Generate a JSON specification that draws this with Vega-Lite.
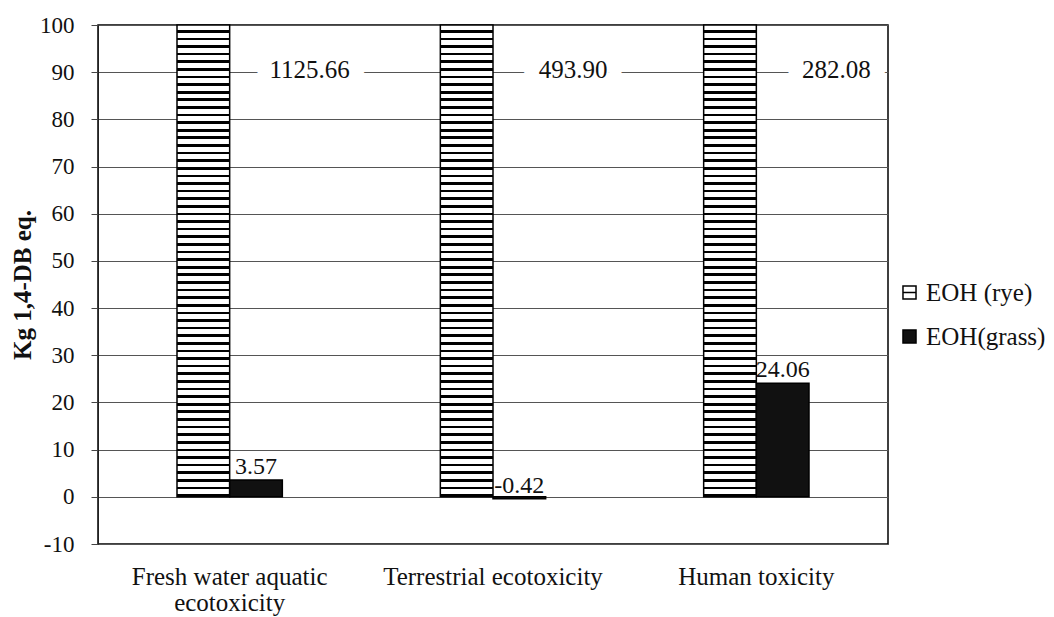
{
  "$schema": "https://vega.github.io/schema/vega-lite/v6.json",
  "width": 790,
  "height": 519,
  "autosize": "none",
  "padding": {"left": 98, "top": 25, "right": 166, "bottom": 73},
  "background": "white",
  "config": {
    "font": "Liberation Serif",
    "view": {"stroke": "#000", "strokeWidth": 1.5}
  },
  "data": {
    "values": [
      {"category": "Fresh water aquatic ecotoxicity", "series": "EOH (rye)", "value": 1125.66, "label": "1125.66"},
      {"category": "Fresh water aquatic ecotoxicity", "series": "EOH(grass)", "value": 3.57, "label": "3.57"},
      {"category": "Terrestrial ecotoxicity", "series": "EOH (rye)", "value": 493.90, "label": "493.90"},
      {"category": "Terrestrial ecotoxicity", "series": "EOH(grass)", "value": -0.42, "label": "-0.42"},
      {"category": "Human toxicity", "series": "EOH (rye)", "value": 282.08, "label": "282.08"},
      {"category": "Human toxicity", "series": "EOH(grass)", "value": 24.06, "label": "24.06"}
    ]
  },
  "encoding": {
    "x": {
      "field": "category",
      "type": "nominal",
      "sort": null,
      "scale": {"paddingInner": 0.6, "paddingOuter": 0.3},
      "axis": {
        "title": null,
        "labelAngle": 0,
        "ticks": false,
        "domain": false,
        "grid": false,
        "labelFont": "Liberation Serif",
        "labelFontSize": 25,
        "labelPadding": 20,
        "labelLineHeight": 26,
        "labelLimit": 0,
        "labelColor": "#111",
        "labelExpr": "datum.value == 'Fresh water aquatic ecotoxicity' ? ['Fresh water aquatic', 'ecotoxicity'] : datum.value"
      }
    },
    "xOffset": {"field": "series", "type": "nominal", "scale": {"domain": ["EOH (rye)", "EOH(grass)"], "paddingInner": 0}}
  },
  "layer": [
    {
      "transform": [{"filter": "datum.series === 'EOH (rye)'"}],
      "mark": {"type": "bar", "stroke": "#000", "strokeWidth": 1.5,
        "fill": {"gradient": "linear", "x1": 0, "y1": 0, "x2": 0, "y2": 1, "stops": [
                {"offset": 0, "color": "#fff"},
                {"offset": 0.0105, "color": "#fff"}, {"offset": 0.0105, "color": "#000"}, {"offset": 0.0161, "color": "#000"}, {"offset": 0.0161, "color": "#fff"},
                {"offset": 0.0266, "color": "#fff"}, {"offset": 0.0266, "color": "#000"}, {"offset": 0.0323, "color": "#000"}, {"offset": 0.0323, "color": "#fff"},
                {"offset": 0.0427, "color": "#fff"}, {"offset": 0.0427, "color": "#000"}, {"offset": 0.0484, "color": "#000"}, {"offset": 0.0484, "color": "#fff"},
                {"offset": 0.0589, "color": "#fff"}, {"offset": 0.0589, "color": "#000"}, {"offset": 0.0645, "color": "#000"}, {"offset": 0.0645, "color": "#fff"},
                {"offset": 0.0750, "color": "#fff"}, {"offset": 0.0750, "color": "#000"}, {"offset": 0.0806, "color": "#000"}, {"offset": 0.0806, "color": "#fff"},
                {"offset": 0.0911, "color": "#fff"}, {"offset": 0.0911, "color": "#000"}, {"offset": 0.0968, "color": "#000"}, {"offset": 0.0968, "color": "#fff"},
                {"offset": 0.1073, "color": "#fff"}, {"offset": 0.1073, "color": "#000"}, {"offset": 0.1129, "color": "#000"}, {"offset": 0.1129, "color": "#fff"},
                {"offset": 0.1234, "color": "#fff"}, {"offset": 0.1234, "color": "#000"}, {"offset": 0.1290, "color": "#000"}, {"offset": 0.1290, "color": "#fff"},
                {"offset": 0.1395, "color": "#fff"}, {"offset": 0.1395, "color": "#000"}, {"offset": 0.1452, "color": "#000"}, {"offset": 0.1452, "color": "#fff"},
                {"offset": 0.1556, "color": "#fff"}, {"offset": 0.1556, "color": "#000"}, {"offset": 0.1613, "color": "#000"}, {"offset": 0.1613, "color": "#fff"},
                {"offset": 0.1718, "color": "#fff"}, {"offset": 0.1718, "color": "#000"}, {"offset": 0.1774, "color": "#000"}, {"offset": 0.1774, "color": "#fff"},
                {"offset": 0.1879, "color": "#fff"}, {"offset": 0.1879, "color": "#000"}, {"offset": 0.1935, "color": "#000"}, {"offset": 0.1935, "color": "#fff"},
                {"offset": 0.2040, "color": "#fff"}, {"offset": 0.2040, "color": "#000"}, {"offset": 0.2097, "color": "#000"}, {"offset": 0.2097, "color": "#fff"},
                {"offset": 0.2202, "color": "#fff"}, {"offset": 0.2202, "color": "#000"}, {"offset": 0.2258, "color": "#000"}, {"offset": 0.2258, "color": "#fff"},
                {"offset": 0.2363, "color": "#fff"}, {"offset": 0.2363, "color": "#000"}, {"offset": 0.2419, "color": "#000"}, {"offset": 0.2419, "color": "#fff"},
                {"offset": 0.2524, "color": "#fff"}, {"offset": 0.2524, "color": "#000"}, {"offset": 0.2581, "color": "#000"}, {"offset": 0.2581, "color": "#fff"},
                {"offset": 0.2685, "color": "#fff"}, {"offset": 0.2685, "color": "#000"}, {"offset": 0.2742, "color": "#000"}, {"offset": 0.2742, "color": "#fff"},
                {"offset": 0.2847, "color": "#fff"}, {"offset": 0.2847, "color": "#000"}, {"offset": 0.2903, "color": "#000"}, {"offset": 0.2903, "color": "#fff"},
                {"offset": 0.3008, "color": "#fff"}, {"offset": 0.3008, "color": "#000"}, {"offset": 0.3065, "color": "#000"}, {"offset": 0.3065, "color": "#fff"},
                {"offset": 0.3169, "color": "#fff"}, {"offset": 0.3169, "color": "#000"}, {"offset": 0.3226, "color": "#000"}, {"offset": 0.3226, "color": "#fff"},
                {"offset": 0.3331, "color": "#fff"}, {"offset": 0.3331, "color": "#000"}, {"offset": 0.3387, "color": "#000"}, {"offset": 0.3387, "color": "#fff"},
                {"offset": 0.3492, "color": "#fff"}, {"offset": 0.3492, "color": "#000"}, {"offset": 0.3548, "color": "#000"}, {"offset": 0.3548, "color": "#fff"},
                {"offset": 0.3653, "color": "#fff"}, {"offset": 0.3653, "color": "#000"}, {"offset": 0.3710, "color": "#000"}, {"offset": 0.3710, "color": "#fff"},
                {"offset": 0.3815, "color": "#fff"}, {"offset": 0.3815, "color": "#000"}, {"offset": 0.3871, "color": "#000"}, {"offset": 0.3871, "color": "#fff"},
                {"offset": 0.3976, "color": "#fff"}, {"offset": 0.3976, "color": "#000"}, {"offset": 0.4032, "color": "#000"}, {"offset": 0.4032, "color": "#fff"},
                {"offset": 0.4137, "color": "#fff"}, {"offset": 0.4137, "color": "#000"}, {"offset": 0.4194, "color": "#000"}, {"offset": 0.4194, "color": "#fff"},
                {"offset": 0.4298, "color": "#fff"}, {"offset": 0.4298, "color": "#000"}, {"offset": 0.4355, "color": "#000"}, {"offset": 0.4355, "color": "#fff"},
                {"offset": 0.4460, "color": "#fff"}, {"offset": 0.4460, "color": "#000"}, {"offset": 0.4516, "color": "#000"}, {"offset": 0.4516, "color": "#fff"},
                {"offset": 0.4621, "color": "#fff"}, {"offset": 0.4621, "color": "#000"}, {"offset": 0.4677, "color": "#000"}, {"offset": 0.4677, "color": "#fff"},
                {"offset": 0.4782, "color": "#fff"}, {"offset": 0.4782, "color": "#000"}, {"offset": 0.4839, "color": "#000"}, {"offset": 0.4839, "color": "#fff"},
                {"offset": 0.4944, "color": "#fff"}, {"offset": 0.4944, "color": "#000"}, {"offset": 0.5000, "color": "#000"}, {"offset": 0.5000, "color": "#fff"},
                {"offset": 0.5105, "color": "#fff"}, {"offset": 0.5105, "color": "#000"}, {"offset": 0.5161, "color": "#000"}, {"offset": 0.5161, "color": "#fff"},
                {"offset": 0.5266, "color": "#fff"}, {"offset": 0.5266, "color": "#000"}, {"offset": 0.5323, "color": "#000"}, {"offset": 0.5323, "color": "#fff"},
                {"offset": 0.5427, "color": "#fff"}, {"offset": 0.5427, "color": "#000"}, {"offset": 0.5484, "color": "#000"}, {"offset": 0.5484, "color": "#fff"},
                {"offset": 0.5589, "color": "#fff"}, {"offset": 0.5589, "color": "#000"}, {"offset": 0.5645, "color": "#000"}, {"offset": 0.5645, "color": "#fff"},
                {"offset": 0.5750, "color": "#fff"}, {"offset": 0.5750, "color": "#000"}, {"offset": 0.5806, "color": "#000"}, {"offset": 0.5806, "color": "#fff"},
                {"offset": 0.5911, "color": "#fff"}, {"offset": 0.5911, "color": "#000"}, {"offset": 0.5968, "color": "#000"}, {"offset": 0.5968, "color": "#fff"},
                {"offset": 0.6073, "color": "#fff"}, {"offset": 0.6073, "color": "#000"}, {"offset": 0.6129, "color": "#000"}, {"offset": 0.6129, "color": "#fff"},
                {"offset": 0.6234, "color": "#fff"}, {"offset": 0.6234, "color": "#000"}, {"offset": 0.6290, "color": "#000"}, {"offset": 0.6290, "color": "#fff"},
                {"offset": 0.6395, "color": "#fff"}, {"offset": 0.6395, "color": "#000"}, {"offset": 0.6452, "color": "#000"}, {"offset": 0.6452, "color": "#fff"},
                {"offset": 0.6556, "color": "#fff"}, {"offset": 0.6556, "color": "#000"}, {"offset": 0.6613, "color": "#000"}, {"offset": 0.6613, "color": "#fff"},
                {"offset": 0.6718, "color": "#fff"}, {"offset": 0.6718, "color": "#000"}, {"offset": 0.6774, "color": "#000"}, {"offset": 0.6774, "color": "#fff"},
                {"offset": 0.6879, "color": "#fff"}, {"offset": 0.6879, "color": "#000"}, {"offset": 0.6935, "color": "#000"}, {"offset": 0.6935, "color": "#fff"},
                {"offset": 0.7040, "color": "#fff"}, {"offset": 0.7040, "color": "#000"}, {"offset": 0.7097, "color": "#000"}, {"offset": 0.7097, "color": "#fff"},
                {"offset": 0.7202, "color": "#fff"}, {"offset": 0.7202, "color": "#000"}, {"offset": 0.7258, "color": "#000"}, {"offset": 0.7258, "color": "#fff"},
                {"offset": 0.7363, "color": "#fff"}, {"offset": 0.7363, "color": "#000"}, {"offset": 0.7419, "color": "#000"}, {"offset": 0.7419, "color": "#fff"},
                {"offset": 0.7524, "color": "#fff"}, {"offset": 0.7524, "color": "#000"}, {"offset": 0.7581, "color": "#000"}, {"offset": 0.7581, "color": "#fff"},
                {"offset": 0.7685, "color": "#fff"}, {"offset": 0.7685, "color": "#000"}, {"offset": 0.7742, "color": "#000"}, {"offset": 0.7742, "color": "#fff"},
                {"offset": 0.7847, "color": "#fff"}, {"offset": 0.7847, "color": "#000"}, {"offset": 0.7903, "color": "#000"}, {"offset": 0.7903, "color": "#fff"},
                {"offset": 0.8008, "color": "#fff"}, {"offset": 0.8008, "color": "#000"}, {"offset": 0.8065, "color": "#000"}, {"offset": 0.8065, "color": "#fff"},
                {"offset": 0.8169, "color": "#fff"}, {"offset": 0.8169, "color": "#000"}, {"offset": 0.8226, "color": "#000"}, {"offset": 0.8226, "color": "#fff"},
                {"offset": 0.8331, "color": "#fff"}, {"offset": 0.8331, "color": "#000"}, {"offset": 0.8387, "color": "#000"}, {"offset": 0.8387, "color": "#fff"},
                {"offset": 0.8492, "color": "#fff"}, {"offset": 0.8492, "color": "#000"}, {"offset": 0.8548, "color": "#000"}, {"offset": 0.8548, "color": "#fff"},
                {"offset": 0.8653, "color": "#fff"}, {"offset": 0.8653, "color": "#000"}, {"offset": 0.8710, "color": "#000"}, {"offset": 0.8710, "color": "#fff"},
                {"offset": 0.8815, "color": "#fff"}, {"offset": 0.8815, "color": "#000"}, {"offset": 0.8871, "color": "#000"}, {"offset": 0.8871, "color": "#fff"},
                {"offset": 0.8976, "color": "#fff"}, {"offset": 0.8976, "color": "#000"}, {"offset": 0.9032, "color": "#000"}, {"offset": 0.9032, "color": "#fff"},
                {"offset": 0.9137, "color": "#fff"}, {"offset": 0.9137, "color": "#000"}, {"offset": 0.9194, "color": "#000"}, {"offset": 0.9194, "color": "#fff"},
                {"offset": 0.9298, "color": "#fff"}, {"offset": 0.9298, "color": "#000"}, {"offset": 0.9355, "color": "#000"}, {"offset": 0.9355, "color": "#fff"},
                {"offset": 0.9460, "color": "#fff"}, {"offset": 0.9460, "color": "#000"}, {"offset": 0.9516, "color": "#000"}, {"offset": 0.9516, "color": "#fff"},
                {"offset": 0.9621, "color": "#fff"}, {"offset": 0.9621, "color": "#000"}, {"offset": 0.9677, "color": "#000"}, {"offset": 0.9677, "color": "#fff"},
                {"offset": 0.9782, "color": "#fff"}, {"offset": 0.9782, "color": "#000"}, {"offset": 0.9839, "color": "#000"}, {"offset": 0.9839, "color": "#fff"},
                {"offset": 0.9944, "color": "#fff"}, {"offset": 0.9944, "color": "#000"}, {"offset": 1, "color": "#000"}
        ]}
      },
      "encoding": {
        "y": {
          "field": "value",
          "type": "quantitative",
          "scale": {"domain": [-10, 100], "nice": false, "clamp": true},
          "axis": {
            "title": "Kg 1,4-DB eq.",
            "titleFont": "Liberation Serif",
            "titleFontSize": 25,
            "titleFontWeight": "bold",
            "titleColor": "#111",
            "titleAngle": -90,
            "titleX": -76,
            "titleY": 259.5,
            "titleAlign": "center",
            "titleBaseline": "middle",
            "values": [-10, 0, 10, 20, 30, 40, 50, 60, 70, 80, 90, 100],
            "labelExpr": "datum.value < 0 ? '-' + abs(datum.value) : '' + datum.value",
            "labelFont": "Liberation Serif",
            "labelFontSize": 23,
            "labelColor": "#111",
            "labelPadding": 17,
            "tickSize": 7,
            "tickColor": "#444",
            "domainColor": "#222",
            "grid": true,
            "gridColor": "#555",
            "gridWidth": 1
          }
        }
      }
    },
    {
      "transform": [{"filter": "datum.series === 'EOH(grass)'"}],
      "mark": {"type": "bar", "stroke": "#000", "strokeWidth": 1.5},
      "encoding": {
        "y": {"field": "value", "type": "quantitative"},
        "color": {
          "field": "series",
          "type": "nominal",
          "scale": {"domain": ["EOH (rye)", "EOH(grass)"], "range": ["#fff", "#111"]},
          "legend": {
            "title": null,
            "orient": "none",
            "legendX": 799,
            "legendY": 255,
            "padding": 0,
            "symbolType": "square",
            "symbolSize": 170,
            "symbolStrokeColor": "#000",
            "symbolStrokeWidth": 1.5,
            "symbolOpacity": 1,
            "labelFont": "Liberation Serif",
            "labelFontSize": 25,
            "labelColor": "#111",
            "labelOffset": 4,
            "labelLimit": 0,
            "rowPadding": 18,
            "encode": {
              "symbols": {
                "update": {
                  "shape": {"signal": "datum.value === 'EOH (rye)' ? 'M-1,-1H1V1H-1ZM-1,0H1' : 'square'"},
                  "stroke": {"value": "#000"}
                }
              }
            }
          }
        }
      }
    },
    {
      "transform": [{"filter": "datum.series === 'EOH (rye)'"}],
      "mark": {"type": "text", "dx": 80, "baseline": "middle", "align": "center", "fontSize": 25, "font": "Liberation Serif", "fill": "#fff", "stroke": "#fff", "strokeWidth": 30, "strokeJoin": "round"},
      "encoding": {
        "xOffset": null,
        "y": {"datum": 90.5, "type": "quantitative"},
        "text": {"field": "label", "type": "nominal"}
      }
    },
    {
      "transform": [{"filter": "datum.series === 'EOH (rye)'"}],
      "mark": {"type": "text", "dx": 80, "baseline": "middle", "align": "center", "fontSize": 25, "font": "Liberation Serif", "color": "#111"},
      "encoding": {
        "xOffset": null,
        "y": {"datum": 90.5, "type": "quantitative"},
        "text": {"field": "label", "type": "nominal"}
      }
    },
    {
      "transform": [{"filter": "datum.series === 'EOH(grass)'"}],
      "mark": {"type": "text", "baseline": "bottom", "align": "center", "dy": -1, "fontSize": 24, "font": "Liberation Serif", "color": "#111"},
      "encoding": {
        "y": {"field": "value", "type": "quantitative"},
        "text": {"field": "label", "type": "nominal"}
      }
    }
  ]
}
